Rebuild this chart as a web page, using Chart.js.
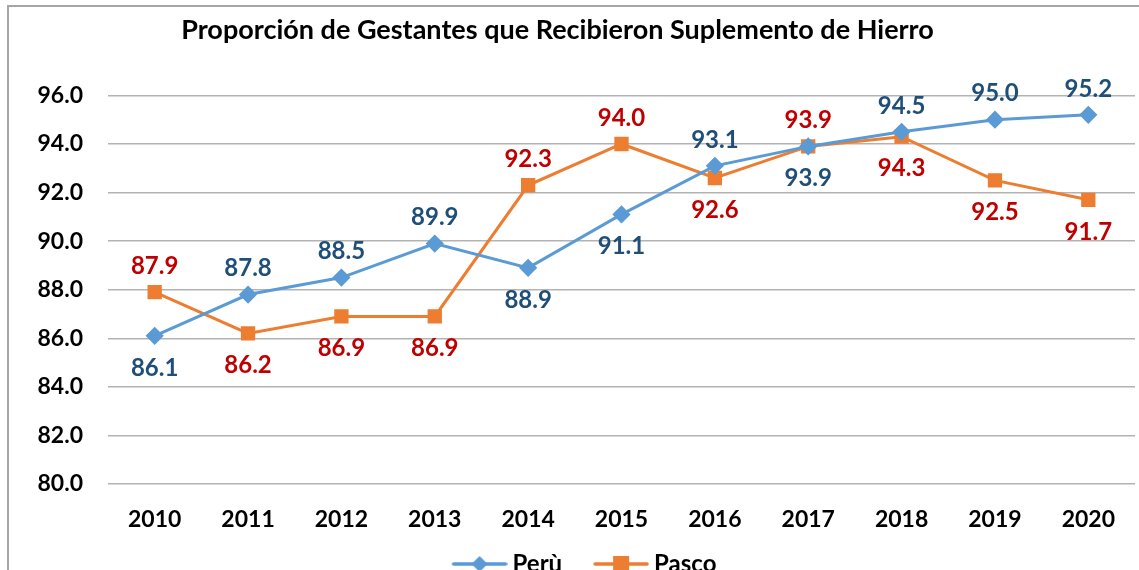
<!DOCTYPE html>
<html>
<head>
<meta charset="utf-8">
<script src="https://cdn.jsdelivr.net/npm/chart.js@4"></script>
<style>
  html, body { margin: 0; padding: 0; background: #fff; overflow: hidden; }
  #wrap { position: absolute; left: 0; top: 0; width: 1146px; height: 586px; }
  #frame { position: absolute; left: 7px; top: 5px; width: 1300px; height: 700px;
           border-left: 2px solid #a6a6a6; border-top: 2px solid #a6a6a6; pointer-events: none; }
</style>
</head>
<body>
<div id="wrap"><canvas id="myChart"></canvas></div>
<div id="frame"></div>
<script>
const years = ['2010', '2011', '2012', '2013', '2014', '2015', '2016', '2017', '2018', '2019', '2020'];
const peru = [86.1, 87.8, 88.5, 89.9, 88.9, 91.1, 93.1, 93.9, 94.5, 95.0, 95.2];
const pasco = [87.9, 86.2, 86.9, 86.9, 92.3, 94.0, 92.6, 93.9, 94.3, 92.5, 91.7];

// where each value label sits: 1 = above the point, -1 = below
const peruLabelPos = [-1, 1, 1, 1, -1, -1, 1, -1, 1, 1, 1];
const pascoLabelPos = [1, -1, -1, -1, 1, 1, -1, 1, -1, -1, -1];

const FONT = 'Lato, "Open Sans", sans-serif';

// legend icon: short line with the marker in the middle (left margin keeps items apart)
function legendIcon(color, style) {
  const c = document.createElement('canvas');
  c.width = 86; c.height = 18;
  const g = c.getContext('2d');
  g.strokeStyle = color; g.lineWidth = 3.5; g.lineCap = 'round';
  g.beginPath(); g.moveTo(32, 9); g.lineTo(84, 9); g.stroke();
  g.fillStyle = color;
  if (style === 'diamond') {
    g.beginPath(); g.moveTo(58, 1); g.lineTo(66, 9); g.lineTo(58, 17); g.lineTo(50, 9); g.closePath(); g.fill();
  } else {
    g.fillRect(50, 1, 16, 16);
  }
  return c;
}

const valueLabels = {
  id: 'valueLabels',
  afterLayout(chart) {
    // title in the original sits a little left of centre
    if (chart.titleBlock) {
      chart.titleBlock.left -= 15;
      chart.titleBlock.right -= 15;
    }
  },
  afterDatasetsDraw(chart) {
    const ctx = chart.ctx;
    const cfg = [
      { pos: peruLabelPos, color: '#1F4E79' },
      { pos: pascoLabelPos, color: '#C00000' }
    ];
    ctx.save();
    ctx.font = 'bold 24px ' + FONT;
    ctx.textAlign = 'center';
    ctx.textBaseline = 'middle';
    chart.data.datasets.forEach((ds, i) => {
      const meta = chart.getDatasetMeta(i);
      meta.data.forEach((pt, j) => {
        const up = cfg[i].pos[j] > 0;
        ctx.fillStyle = cfg[i].color;
        ctx.fillText(ds.data[j].toFixed(1), pt.x, pt.y + (up ? -26 : 32));
      });
    });
    ctx.restore();
  }
};

const ctx = document.getElementById('myChart').getContext('2d');

new Chart(ctx, {
  type: 'line',
  data: {
    labels: years,
    datasets: [{
      label: 'Perù',
      data: peru,
      borderColor: '#5B9BD5',
      backgroundColor: '#5B9BD5',
      borderWidth: 3,
      pointStyle: 'rectRot',
      pointRadius: 7,
      pointHoverRadius: 7,
      tension: 0
    }, {
      label: 'Pasco',
      data: pasco,
      borderColor: '#ED7D31',
      backgroundColor: '#ED7D31',
      borderWidth: 3,
      pointStyle: 'rect',
      pointRadius: 8,
      pointHoverRadius: 8,
      tension: 0
    }]
  },
  options: {
    responsive: true,
    maintainAspectRatio: false,
    animation: false,
    layout: { padding: { top: 0, right: 1, bottom: 0, left: 0 } },
    plugins: {
      title: {
        display: true,
        text: 'Proporción de Gestantes que Recibieron Suplemento de Hierro',
        color: '#000',
        font: { family: FONT, size: 27, weight: 'bold' },
        padding: { top: 14, bottom: 49 }
      },
      legend: {
        position: 'bottom',
        labels: {
          usePointStyle: true,
          pointStyleWidth: 72,
          boxWidth: 72,
          color: '#000',
          font: { family: FONT, size: 24, weight: 'bold' },
          padding: 8,
          generateLabels(chart) {
            return chart.data.datasets.map((ds, i) => ({
              text: ds.label,
              pointStyle: legendIcon(ds.borderColor, i === 0 ? 'diamond' : 'square'),
              fillStyle: ds.borderColor,
              strokeStyle: ds.borderColor,
              fontColor: '#000',
              datasetIndex: i,
              hidden: false
            }));
          }
        }
      },
      tooltip: { enabled: false }
    },
    scales: {
      x: {
        offset: true,
        afterFit(scale) { scale.height = 60; },
        grid: { display: false },
        border: { display: false },
        ticks: { color: '#000', padding: 14, font: { family: FONT, size: 23, weight: 'bold' } }
      },
      y: {
        min: 80,
        max: 96,
        afterFit(scale) { scale.width = 108; },
        grid: { color: '#b3b3b3', lineWidth: 1.5, drawTicks: false },
        border: { display: false },
        ticks: {
          stepSize: 2,
          color: '#000',
          padding: 25,
          font: { family: FONT, size: 23, weight: 'bold' },
          callback: v => v.toFixed(1)
        }
      }
    }
  },
  plugins: [valueLabels]
});
</script>
</body>
</html>
